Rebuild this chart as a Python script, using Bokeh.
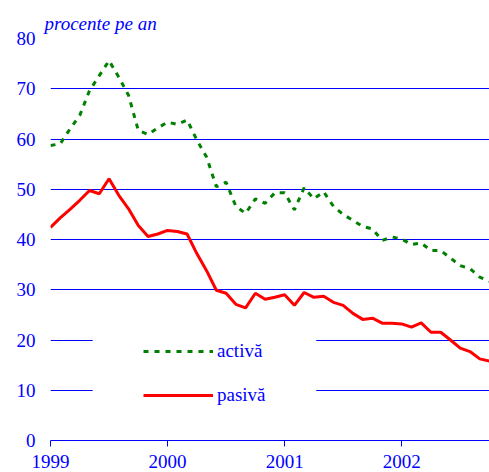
from bokeh.plotting import figure
from bokeh.models import Range1d, FixedTicker, Legend, LegendItem, BoxAnnotation, ColumnDataSource
from bokeh.embed import file_html
from bokeh.resources import INLINE

# monthly data, Jan 1999 .. Oct 2002
months = [1999 + i / 12 for i in range(46)]
activa = [58.7, 59.05, 62.0, 64.7, 69.65, 72.6, 75.6, 72.3, 68.7, 61.7, 60.9, 62.2,
          63.35, 62.9, 63.8, 59.8, 56.4, 50.5, 51.4, 46.6, 45.2, 48.1, 47.2, 49.3,
          49.3, 45.9, 50.3, 48.1, 49.5, 46.6, 45.0, 43.8, 42.6, 42.1, 39.8, 40.5,
          40.1, 39.0, 39.3, 37.8, 37.8, 36.3, 34.8, 34.2, 32.5, 31.7]
pasiva = [42.4, 44.3, 46.0, 47.8, 49.75, 49.1, 52.1, 48.8, 46.1, 42.8, 40.6, 41.1,
          41.8, 41.6, 41.1, 37.2, 33.8, 29.9, 29.3, 27.1, 26.4, 29.3, 28.1, 28.5,
          29.0, 26.9, 29.45, 28.5, 28.7, 27.5, 26.9, 25.3, 24.1, 24.35, 23.35, 23.35,
          23.2, 22.55, 23.4, 21.55, 21.55, 20.0, 18.4, 17.7, 16.25, 15.8]
year_ticks = [1999, 2000, 2001, 2002]
year_labels = ["1999", "2000", "2001", "2002"]
y_ticks = [0, 10, 20, 30, 40, 50, 60, 70, 80]
series_names = ["activă", "pasivă"]

FONT = "'Liberation Serif', 'Times New Roman', serif"
BLUE = "#0000ff"

src = ColumnDataSource(dict(x=months, a=activa, p=pasiva))

p = figure(width=489, height=472, x_range=Range1d(1999, 1999 + 45 / 12), y_range=Range1d(0, 80),
           output_backend="svg", toolbar_location=None,
           min_border_left=50, min_border_right=0, min_border_top=38, min_border_bottom=32)
p.outline_line_color = None
p.background_fill_color = "white"

p.title.text = "procente pe an"
p.title.text_font = FONT
p.title.text_font_size = "19px"
p.title.text_font_style = "italic"
p.title.text_color = BLUE
p.title.align = "left"
p.title.offset = -6
p.title.standoff = 10

# axes
p.xaxis.ticker = FixedTicker(ticks=year_ticks)
p.xaxis.major_label_overrides = {t: l for t, l in zip(year_ticks, year_labels)}
p.xaxis.axis_line_color = BLUE
p.xaxis.major_tick_line_color = BLUE
p.xaxis.major_tick_out = 6
p.xaxis.major_tick_in = 0
p.xaxis.minor_tick_line_color = None
p.xaxis.major_label_text_font = FONT
p.xaxis.major_label_text_font_size = "19px"
p.xaxis.major_label_text_line_height = 1.0
p.xaxis.major_label_text_color = BLUE
p.xaxis.major_label_standoff = 8

p.yaxis.ticker = FixedTicker(ticks=y_ticks)
p.yaxis.axis_line_color = None
p.yaxis.major_tick_line_color = None
p.yaxis.minor_tick_line_color = None
p.yaxis.major_tick_out = 0
p.yaxis.major_tick_in = 0
p.yaxis.major_label_text_font = FONT
p.yaxis.major_label_text_font_size = "19px"
p.yaxis.major_label_text_color = BLUE
p.yaxis.major_label_standoff = 15

p.xgrid.grid_line_color = None
p.ygrid.ticker = FixedTicker(ticks=y_ticks)
p.ygrid.grid_line_color = BLUE
p.ygrid.grid_line_width = 1
p.ygrid.level = "image"

# white panel behind the legend hiding the grid
box = BoxAnnotation(left=1999.36, right=2001.27, bottom=5, top=22,
                    fill_color="white", fill_alpha=1.0, line_color=None, level="underlay")
p.add_layout(box)

r1 = p.line("x", "a", source=src, line_color="#008000", line_width=3, line_dash="5 6")
r2 = p.line("x", "p", source=src, line_color="#ff0000", line_width=3)

legend = Legend(items=[LegendItem(label=series_names[0], renderers=[r1]),
                       LegendItem(label=series_names[1], renderers=[r2])],
                location=(93, 34), padding=0, margin=0, spacing=22,
                glyph_width=70, glyph_height=20, label_height=20, label_standoff=4,
                background_fill_alpha=0, border_line_color=None,
                label_text_font=FONT, label_text_font_size="19px", label_text_color=BLUE)
p.add_layout(legend)

open("out.html", "w").write(file_html(p, INLINE))
